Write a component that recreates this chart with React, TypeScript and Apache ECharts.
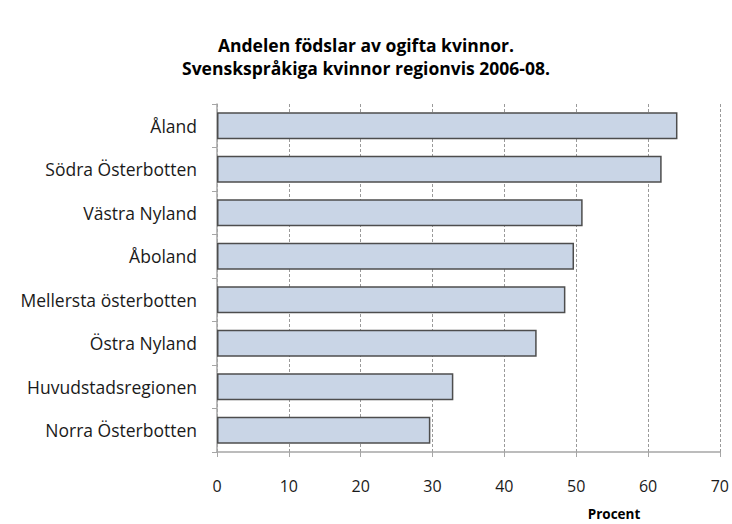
import React, { useEffect, useRef } from "react";
import * as echarts from "echarts";

const categories = [
  "Åland",
  "Södra Österbotten",
  "Västra Nyland",
  "Åboland",
  "Mellersta österbotten",
  "Östra Nyland",
  "Huvudstadsregionen",
  "Norra Österbotten",
];
const values = [64.1, 61.9, 50.9, 49.7, 48.5, 44.5, 32.9, 29.7];
const titleLines = ["Andelen födslar av ogifta kvinnor.", "Svenskspråkiga kvinnor regionvis 2006-08."];
const xAxisName = "Procent";

const FONT = "Open Sans";

export default function App() {
  const ref = useRef<HTMLDivElement>(null);
  useEffect(() => {
    document.body.style.margin = "0";
    if (!ref.current) return;
    const chart = echarts.init(ref.current, undefined, { renderer: "svg" });
    chart.setOption({
      animation: false,
      backgroundColor: "#ffffff",
      title: {
        text: titleLines.join("\n"),
        left: "center",
        top: 28,
        textStyle: {
          fontFamily: FONT,
          fontWeight: "bold",
          fontSize: 17.5,
          lineHeight: 23,
          color: "#000000",
        },
      },
      grid: { left: 217, right: 12, top: 104, bottom: 72, containLabel: false },
      xAxis: {
        type: "value",
        min: 0,
        max: 70,
        interval: 10,
        axisLine: { show: true, lineStyle: { color: "#a6a6a6", width: 1.5 } },
        axisTick: { show: true, length: 5, lineStyle: { color: "#a6a6a6" } },
        axisLabel: { fontFamily: FONT, fontSize: 16, color: "#1a1a1a", margin: 26 },
        splitLine: { show: true, lineStyle: { color: "#9a9a9a", type: [3, 2], width: 1 } },
      },
      yAxis: {
        type: "category",
        data: categories,
        inverse: true,
        axisLine: { show: true, lineStyle: { color: "#a6a6a6", width: 1.5 } },
        axisTick: { show: true, length: 5, lineStyle: { color: "#a6a6a6" } },
        axisLabel: { fontFamily: FONT, fontSize: 17.5, color: "#1a1a1a", margin: 20 },
      },
      graphic: [
        {
          type: "text",
          x: 614,
          y: 514,
          style: {
            text: xAxisName,
            fontFamily: FONT,
            fontWeight: "bold",
            fontSize: 13.5,
            fill: "#000000",
            align: "center",
            verticalAlign: "middle",
          },
        },
      ],
      series: [
        {
          type: "bar",
          data: values,
          barWidth: 27,
          itemStyle: {
            color: "#c9d5e6",
            borderColor: "#4d4d4d",
            borderWidth: 1.5,
          },
        },
      ],
    });
    return () => chart.dispose();
  }, []);
  return <div ref={ref} style={{ width: 732, height: 524 }} />;
}
